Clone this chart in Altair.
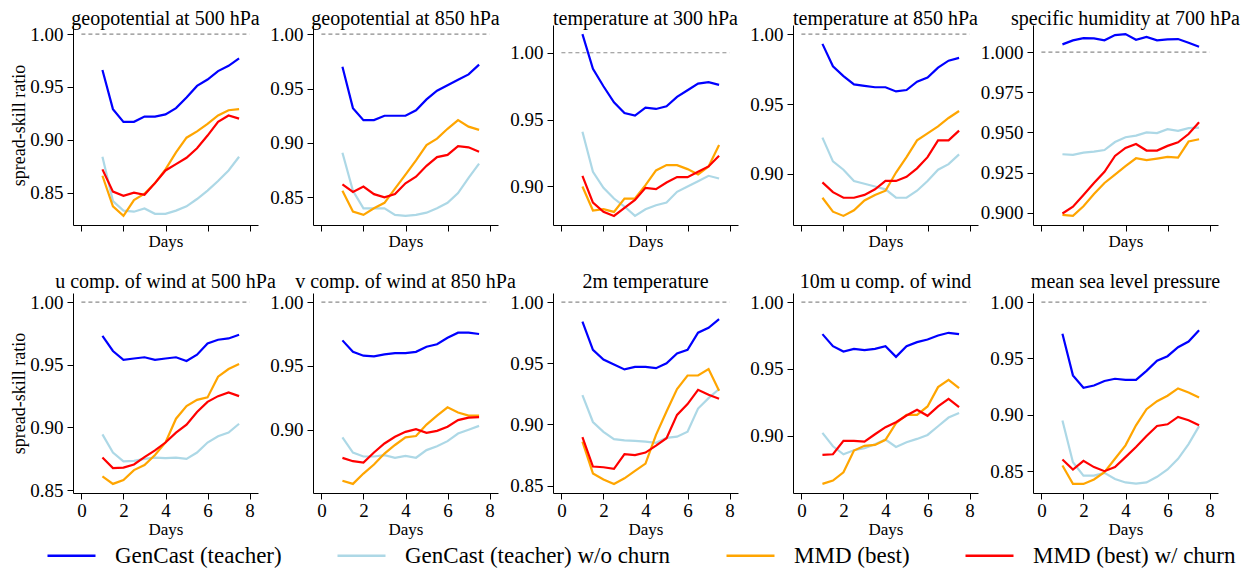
import altair as alt
import pandas as pd
import numpy as np

DAYS = [1.0, 1.5, 2.0, 2.5, 3.0, 3.5, 4.0, 4.5, 5.0, 5.5, 6.0, 6.5, 7.0, 7.5]

TITLES = [
    "geopotential at 500 hPa", "geopotential at 850 hPa", "temperature at 300 hPa",
    "temperature at 850 hPa", "specific humidity at 700 hPa",
    "u comp. of wind at 500 hPa", "v comp. of wind at 850 hPa", "2m temperature",
    "10m u comp. of wind", "mean sea level pressure",
]

SERIES = ["GenCast (teacher)", "GenCast (teacher) w/o churn", "MMD (best)", "MMD (best) w/ churn"]
COLORS = ["#0000ff", "#add8e6", "#ffa500", "#ff0000"]

Y_STEP = [0.05, 0.05, 0.05, 0.05, 0.025, 0.05, 0.05, 0.05, 0.05, 0.05]

TEACHER = [
    [0.966, 0.929, 0.917, 0.917, 0.922, 0.922, 0.924, 0.930, 0.940, 0.951, 0.957, 0.965, 0.970, 0.977],
    [0.970, 0.932, 0.921, 0.921, 0.925, 0.925, 0.925, 0.930, 0.940, 0.948, 0.953, 0.958, 0.963, 0.972],
    [1.014, 0.988, 0.975, 0.963, 0.955, 0.953, 0.959, 0.958, 0.960, 0.967, 0.972, 0.977, 0.978, 0.976],
    [0.993, 0.977, 0.970, 0.964, 0.963, 0.962, 0.962, 0.959, 0.960, 0.966, 0.969, 0.976, 0.981, 0.983],
    [1.0048, 1.0073, 1.0087, 1.0085, 1.0073, 1.0106, 1.0112, 1.0077, 1.0094, 1.0073, 1.0079, 1.0081, 1.0058, 1.0033],
    [0.973, 0.961, 0.954, 0.955, 0.956, 0.954, 0.955, 0.956, 0.953, 0.958, 0.967, 0.970, 0.971, 0.974],
    [0.970, 0.961, 0.958, 0.9575, 0.959, 0.960, 0.960, 0.961, 0.965, 0.967, 0.972, 0.976, 0.976, 0.975],
    [0.984, 0.961, 0.953, 0.949, 0.945, 0.947, 0.947, 0.946, 0.950, 0.958, 0.961, 0.975, 0.979, 0.986],
    [0.976, 0.967, 0.963, 0.965, 0.964, 0.965, 0.967, 0.959, 0.967, 0.970, 0.972, 0.975, 0.977, 0.976],
    [0.972, 0.935, 0.924, 0.926, 0.930, 0.932, 0.931, 0.931, 0.939, 0.948, 0.952, 0.960, 0.965, 0.975],
]

TEACHER_NO_CHURN = [
    [0.884, 0.842, 0.833, 0.832, 0.835, 0.830, 0.830, 0.833, 0.837, 0.844, 0.852, 0.861, 0.871, 0.884],
    [0.891, 0.856, 0.840, 0.840, 0.840, 0.834, 0.833, 0.834, 0.836, 0.840, 0.845, 0.854, 0.868, 0.881],
    [0.941, 0.911, 0.899, 0.891, 0.885, 0.878, 0.883, 0.886, 0.888, 0.896, 0.900, 0.904, 0.908, 0.906],
    [0.926, 0.909, 0.903, 0.895, 0.893, 0.891, 0.889, 0.883, 0.883, 0.888, 0.895, 0.903, 0.907, 0.914],
    [0.9364, 0.936, 0.9374, 0.938, 0.939, 0.944, 0.947, 0.948, 0.950, 0.9496, 0.952, 0.951, 0.9526, 0.953],
    [0.8945, 0.880, 0.873, 0.8734, 0.875, 0.876, 0.8755, 0.876, 0.875, 0.880, 0.888, 0.893, 0.896, 0.903],
    [0.894, 0.882, 0.879, 0.879, 0.880, 0.878, 0.8795, 0.878, 0.884, 0.887, 0.891, 0.897, 0.900, 0.903],
    [0.924, 0.902, 0.894, 0.888, 0.887, 0.8866, 0.886, 0.885, 0.889, 0.890, 0.894, 0.913, 0.9215, 0.929],
    [0.902, 0.892, 0.886, 0.889, 0.8905, 0.8935, 0.897, 0.8915, 0.895, 0.8975, 0.9005, 0.907, 0.9135, 0.917],
    [0.895, 0.858, 0.846, 0.846, 0.8485, 0.843, 0.840, 0.839, 0.840, 0.845, 0.8515, 0.861, 0.874, 0.890],
]

MMD_BEST = [
    [0.866, 0.837, 0.828, 0.843, 0.849, 0.859, 0.872, 0.888, 0.902, 0.908, 0.915, 0.923, 0.928, 0.929],
    [0.856, 0.837, 0.834, 0.840, 0.845, 0.858, 0.871, 0.884, 0.898, 0.904, 0.913, 0.921, 0.915, 0.912],
    [0.900, 0.882, 0.883, 0.881, 0.891, 0.891, 0.901, 0.912, 0.916, 0.916, 0.913, 0.909, 0.915, 0.931],
    [0.883, 0.873, 0.870, 0.874, 0.881, 0.885, 0.888, 0.901, 0.912, 0.924, 0.929, 0.934, 0.940, 0.945],
    [0.8987, 0.898, 0.904, 0.9116, 0.9185, 0.9237, 0.929, 0.9339, 0.9327, 0.9337, 0.9347, 0.9343, 0.9443, 0.9457],
    [0.861, 0.855, 0.858, 0.866, 0.870, 0.878, 0.888, 0.907, 0.917, 0.922, 0.924, 0.9405, 0.9466, 0.9506],
    [0.860, 0.8575, 0.8656, 0.8727, 0.8813, 0.888, 0.894, 0.895, 0.904, 0.911, 0.9175, 0.9135, 0.911, 0.911],
    [0.886, 0.860, 0.855, 0.8514, 0.856, 0.862, 0.868, 0.8915, 0.9106, 0.929, 0.940, 0.940, 0.9452, 0.9275],
    [0.8638, 0.8663, 0.8725, 0.8888, 0.8923, 0.893, 0.8968, 0.9093, 0.9155, 0.9155, 0.9218, 0.9363, 0.9418, 0.9355],
    [0.855, 0.8387, 0.8387, 0.8426, 0.8491, 0.861, 0.8729, 0.8907, 0.905, 0.9121, 0.9169, 0.9234, 0.9198, 0.9154],
]

MMD_CHURN = [
    [0.872, 0.851, 0.847, 0.850, 0.848, 0.859, 0.871, 0.877, 0.883, 0.892, 0.904, 0.917, 0.923, 0.920],
    [0.862, 0.855, 0.860, 0.853, 0.850, 0.853, 0.863, 0.869, 0.879, 0.887, 0.889, 0.897, 0.896, 0.892],
    [0.908, 0.888, 0.881, 0.878, 0.884, 0.890, 0.899, 0.898, 0.903, 0.907, 0.907, 0.911, 0.915, 0.923],
    [0.894, 0.887, 0.883, 0.883, 0.885, 0.889, 0.895, 0.895, 0.898, 0.904, 0.912, 0.924, 0.924, 0.931],
    [0.8995, 0.9037, 0.911, 0.9185, 0.9255, 0.9353, 0.9403, 0.9428, 0.9387, 0.9387, 0.9416, 0.9438, 0.949, 0.9563],
    [0.876, 0.8676, 0.868, 0.8705, 0.8764, 0.8817, 0.888, 0.8959, 0.9023, 0.9124, 0.9204, 0.925, 0.928, 0.925],
    [0.8779, 0.8753, 0.8742, 0.8821, 0.8892, 0.8944, 0.8983, 0.9004, 0.8976, 0.8991, 0.9023, 0.9075, 0.9094, 0.9099],
    [0.8896, 0.8656, 0.865, 0.8637, 0.8757, 0.875, 0.877, 0.8827, 0.8887, 0.9078, 0.9166, 0.9283, 0.9242, 0.921],
    [0.8855, 0.886, 0.896, 0.896, 0.8955, 0.901, 0.9063, 0.910, 0.915, 0.9193, 0.9148, 0.9218, 0.9275, 0.9213],
    [0.8604, 0.8515, 0.8592, 0.8536, 0.850, 0.8536, 0.8625, 0.8714, 0.8812, 0.8901, 0.8916, 0.8981, 0.8952, 0.8907],
]

FONT = "Liberation Serif"
PW, PH = 185, 200


def panel(i):
    rows = []
    for name, arr in zip(SERIES, [TEACHER, TEACHER_NO_CHURN, MMD_BEST, MMD_CHURN]):
        for d, v in zip(DAYS, arr[i]):
            rows.append({"day": d, "value": v, "series": name})
    df = pd.DataFrame(rows)
    vals = df["value"].tolist() + [1.0]
    lo, hi = min(vals), max(vals)
    m = 0.05 * (hi - lo)
    dom = [lo - m, hi + m]
    step = Y_STEP[i]
    k0 = int(np.ceil(dom[0] / step - 1e-9))
    k1 = int(np.floor(dom[1] / step + 1e-9))
    ticks = [round(k * step, 4) for k in range(k0, k1 + 1)]
    fmt = ".3f" if step < 0.05 else ".2f"
    top = i < 5
    first = i % 5 == 0

    xaxis = alt.Axis(values=list(range(9)), labels=not top, title="Days", format="d",
                     titlePadding=2 if top else 1)
    if first:
        yaxis = alt.Axis(values=ticks, format=fmt, title="spread-skill ratio")
    else:
        yaxis = alt.Axis(values=ticks, format=fmt, title=None)
    x = alt.X("day:Q", scale=alt.Scale(domain=[-0.4, 8.4], nice=False, zero=False), axis=xaxis)
    y = alt.Y("value:Q", scale=alt.Scale(domain=dom, nice=False, zero=False), axis=yaxis)

    ref = alt.Chart(pd.DataFrame({"ref": [1.0]})).mark_rule(
        color="#8c8c8c", strokeDash=[4, 3], strokeWidth=1.1
    ).encode(x=alt.datum(0), x2=alt.datum(8), y=alt.Y("ref:Q"))

    lines = alt.Chart(df).mark_line(strokeWidth=2.2).encode(
        x=x,
        y=y,
        color=alt.Color(
            "series:N",
            scale=alt.Scale(domain=SERIES, range=COLORS),
            legend=alt.Legend(
                title=None, orient="none", direction="horizontal",
                legendX=-15, legendY=517,
                symbolType="M-2,0L2,0", symbolSize=576, symbolStrokeWidth=2.5,
                labelFontSize=23, labelFont=FONT, labelLimit=0, columnPadding=50,
                labelOffset=30, padding=0,
            ),
        ),
    )
    return alt.layer(ref, lines).properties(
        width=PW, height=PH,
        title=alt.TitleParams(TITLES[i], fontSize=20, font=FONT, fontWeight="normal",
                              offset=0, dy=3.5 if top else -1),
    )


chart = alt.concat(
    *[panel(i) for i in range(10)], columns=5,
    spacing={"row": 68, "column": 55}, bounds="flush",
).resolve_scale(color="shared").properties(
    autosize=alt.AutoSizeParams(type="none")
).configure(
    font=FONT, padding={"left": 65, "top": 17, "right": 1178, "bottom": 546}
).configure_view(stroke=None).configure_axis(
    grid=False, domainColor="black", tickColor="black", labelColor="black",
    titleColor="black", domainWidth=1, tickWidth=1, tickSize=6,
    labelFont=FONT, titleFont=FONT, titleFontWeight="normal", labelFontSize=19,
).configure_axisX(
    titleFontSize=17, labelPadding=2,
).configure_axisY(
    titleFontSize=18, labelPadding=4, titlePadding=1,
)

chart.save("out.html", embed_options={"renderer": "svg", "actions": False})
